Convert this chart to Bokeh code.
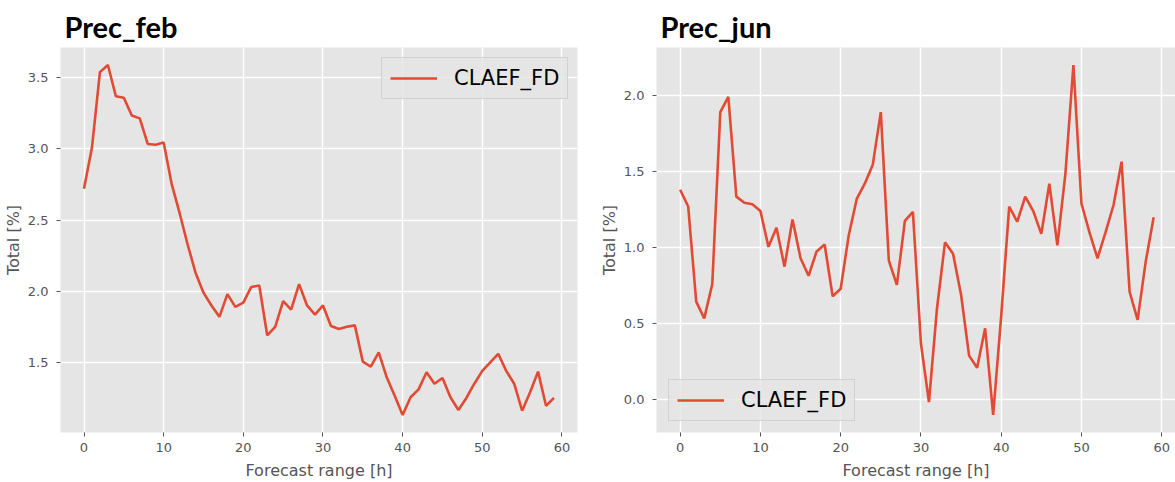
from bokeh.plotting import figure
from bokeh.layouts import row
from bokeh.models import (FixedTicker, PrintfTickFormatter, Legend, LegendItem,
                          Range1d, Title)
from bokeh.embed import file_html
from bokeh.resources import INLINE

hours = list(range(60))
prec_feb = [2.72, 3.01, 3.54, 3.59, 3.37, 3.36, 3.235, 3.215, 3.035, 3.03,
            3.045, 2.755, 2.55, 2.33, 2.13, 1.99, 1.90, 1.82, 1.98, 1.89,
            1.92, 2.03, 2.04, 1.69, 1.75, 1.93, 1.87, 2.05, 1.90, 1.835,
            1.90, 1.755, 1.735, 1.75, 1.76, 1.505, 1.47, 1.57, 1.395, 1.265,
            1.13, 1.255, 1.31, 1.43, 1.35, 1.39, 1.255, 1.165, 1.25, 1.35,
            1.44, 1.50, 1.56, 1.44, 1.35, 1.16, 1.29, 1.435, 1.195, 1.25]
prec_jun = [1.38, 1.27, 0.645, 0.535, 0.76, 1.89, 1.99, 1.335, 1.295, 1.285,
            1.24, 1.005, 1.13, 0.875, 1.185, 0.93, 0.815, 0.975, 1.02, 0.68,
            0.73, 1.08, 1.32, 1.42, 1.545, 1.89, 0.915, 0.755, 1.175, 1.235,
            0.37, -0.015, 0.60, 1.035, 0.96, 0.69, 0.29, 0.21, 0.47, -0.10,
            0.55, 1.27, 1.17, 1.335, 1.24, 1.09, 1.42, 1.015, 1.485, 2.20,
            1.29, 1.10, 0.93, 1.10, 1.28, 1.565, 0.71, 0.525, 0.905, 1.20]
x_ticks = [0, 10, 20, 30, 40, 50, 60]
feb_ticks = [1.5, 2.0, 2.5, 3.0, 3.5]
jun_ticks = [0.0, 0.5, 1.0, 1.5, 2.0]
series_name = "CLAEF_FD"
titles = ["Prec_feb", "Prec_jun"]
x_label = "Forecast range [h]"
y_label = "Total [%]"

LINE = "#E24A33"
GRAY = "#555555"


def yrange(vals):
    lo, hi = min(vals), max(vals)
    m = (hi - lo) * 0.05
    return Range1d(lo - m, hi + m)


def make(vals, yt, title, width, bl, br, x_end, legend_loc):
    p = figure(width=width, height=482, output_backend="svg",
               toolbar_location=None,
               x_range=Range1d(-2.95, x_end), y_range=yrange(vals),
               min_border_left=bl, min_border_right=br,
               min_border_top=47, min_border_bottom=50)
    p.title = None
    t = Title(text=title, align="left", offset=4, standoff=8,
              text_font="Lato", text_font_style="bold",
              text_font_size="29px", text_color="black")
    p.add_layout(t, "above")
    p.background_fill_color = "#E5E5E5"
    p.border_fill_color = "white"
    p.outline_line_color = None
    r = p.line(hours, vals, line_color=LINE, line_width=2.6)
    for ax in (p.xaxis[0], p.yaxis[0]):
        ax.axis_line_color = None
        ax.major_tick_line_color = GRAY
        ax.major_tick_in = 0
        ax.major_tick_out = 4
        ax.minor_tick_line_color = None
        ax.major_label_text_font = "DejaVu Sans"
        ax.major_label_text_font_size = "13px"
        ax.major_label_text_color = GRAY
        ax.axis_label_text_font = "DejaVu Sans"
        ax.axis_label_text_font_size = "16px"
        ax.axis_label_text_font_style = "normal"
        ax.axis_label_text_color = GRAY
    p.xaxis[0].ticker = FixedTicker(ticks=x_ticks)
    p.yaxis[0].ticker = FixedTicker(ticks=yt)
    p.yaxis[0].formatter = PrintfTickFormatter(format="%.1f")
    p.xaxis[0].axis_label = x_label
    p.yaxis[0].axis_label = y_label
    p.xaxis[0].major_label_standoff = 6
    p.yaxis[0].major_label_standoff = 8
    p.xaxis[0].axis_label_standoff = 6
    p.yaxis[0].axis_label_standoff = 2
    p.grid.grid_line_color = "white"
    p.grid.grid_line_width = 1.5
    leg = Legend(items=[LegendItem(label=series_name, renderers=[r])],
                 location=legend_loc, margin=0, padding=8,
                 glyph_width=47, label_standoff=17,
                 label_text_font="DejaVu Sans", label_text_font_size="21px",
                 label_text_color="black",
                 background_fill_color="#E5E5E5", background_fill_alpha=0.8,
                 border_line_color="#CCCCCC", border_line_alpha=0.8)
    p.add_layout(leg)
    return p


p1 = make(prec_feb, feb_ticks, titles[0], 596, 54, 19, 61.95, (321, 333))
p2 = make(prec_jun, jun_ticks, titles[1], 579, 58, 0, 61.72, (12, 11))

layout = row(p1, p2)
open("out.html", "w").write(file_html(layout, INLINE))
